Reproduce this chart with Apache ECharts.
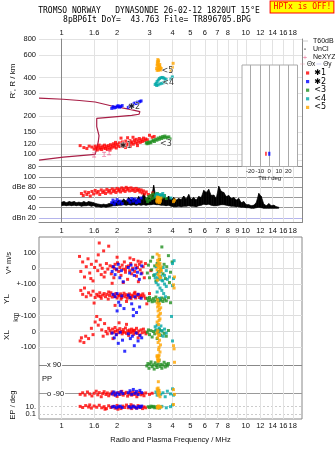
<!DOCTYPE html>
<html><head><meta charset="utf-8">
<script src="https://cdn.jsdelivr.net/npm/echarts@6/dist/echarts.min.js"></script>
<style>html,body{margin:0;padding:0;background:#fff}#c{width:335px;height:451px}</style>
</head><body><div id="c"></div>
<script>
// ---------- axis ticks ----------
const fMin = 0.753, fMax = 20.2;
const freqTicks = [1,1.5,2,3,4,5,6,7,8,10,12,14,16,18];
const freqTickLabels = ['1','1.6','2','3','4','5','6','7','8','10','12','14','16','18'];
const ampFreqTicks = [1,1.5,2,3,4,5,6,7,8,9,10,12,14,16,18];
const ampFreqLabels = ['1','1.6','2','3','4','5','6','7','8','9','10','12','14','16','18'];
const freqGrid = [1,1.5,2,3,4,5,6,7,8,9,10,12,14,16,18];
const heightTicks = [80,90,100,120,150,200,300,400,600,800];
const ampTicks = [20,40,60,80,100];
const ampTickLabels = ['dBn 20','40','60','dBe 80','100'];
const tiltTicks = [-20,-10,0,10,20];
const lowTicks = [100,0,-100,-200,-300,-400,-500];
const lowTickLabels = ['100','0','+-100','0','+-100','0','-100'];

// ---------- data ----------
const profile = [[0.753,275],[1.02,270],[1.25,264],[1.52,257],[1.85,240],[2.35,225],[2.66,216],[2.63,206],[2.40,202],[1.55,191],[1.55,165],[1.595,140],[1.58,125],[1.55,112],[1.52,100],[1.02,95],[0.753,90]];
const neXYZ = [[1.50,99],[1.70,100],[1.81,103]];
const thetaX = [[-3.5,101]];
const thetaY = [[0,101]];
const tags = [[2.07,117,'✱1'],[2.30,233,'✱2'],[3.42,120,'<3'],[3.52,360,'<4'],[3.49,452,'<5']];

// noise band: [freq MHz, low dB, high dB]
const noiseBand = [[1.00,44,51],[1.03,45,52],[1.06,44,50],[1.10,45,52],[1.13,44,51],[1.17,45,52],[1.20,44,50],[1.24,45,51],[1.28,43,50],[1.32,44,52],[1.36,44,50],[1.40,45,52],[1.45,43,51],[1.49,44,50],[1.54,42,48],[1.59,42,47],[1.64,41,46],[1.69,42,47],[1.74,41,46],[1.80,42,48],
[1.85,43,49],[1.91,44,52],[1.97,44,50],[2.04,45,55],[2.10,45,52],[2.17,46,57],[2.24,45,53],[2.31,46,60],[2.38,45,55],[2.46,46,58],[2.54,45,54],[2.62,46,62],[2.70,45,56],[2.79,46,68],[2.87,45,58],[2.97,46,62],[3.06,46,56],[3.16,47,84],[3.26,46,58],[3.36,46,62],[3.47,45,58],[3.58,45,62],[3.69,44,57],[3.81,45,63],[3.93,43,56],[4.06,42,60],[4.19,42,55],[4.32,43,58],[4.46,42,56],[4.60,43,63],[4.75,43,57],[4.90,44,66],[5.05,43,56],[5.21,43,60],[5.38,42,55],[5.55,44,62],[5.73,45,60],[5.91,47,74],[6.10,46,70],[6.29,47,76],[6.49,45,64],[6.70,44,65],[6.91,44,58],[7.13,45,82],[7.36,46,72],[7.59,46,70],[7.83,45,62],[8.08,44,64],[8.34,43,58],[8.61,43,60],[8.88,42,55],[9.16,42,58],[9.45,41,50],[9.75,41,52],[10.06,40,46],[10.38,40,46],[10.71,39,44],[11.05,39,45],[11.40,40,50],[11.77,41,68],[12.14,40,62],[12.53,39,47],[12.92,39,44],[13.34,39,48],[13.76,39,44],[14.20,39,45],[14.65,39,42],[15.11,39,41]];

// cluster 1 (red)
const redIon = [[1.26,117],[1.32,113],[1.37,111],[1.41,116],[1.46,114],[1.50,110],[1.52,116],[1.54,112],[1.56,108],[1.58,114],[1.60,118],[1.61,110],[1.63,113],[1.65,109],[1.67,116],[1.69,112],[1.71,118],[1.73,111],[1.75,115],[1.77,109],[1.79,117],[1.81,113],[1.84,119],[1.86,112],[1.88,116],[1.91,121],[1.93,114],[1.95,118],[1.98,112],[2.00,120],[2.03,116],[2.06,123],[2.08,115],[2.11,119],[2.14,125],[2.17,117],[2.20,121],[2.23,127],[2.26,118],[2.29,123],[2.32,120],[2.35,128],[2.38,122],[2.41,125],[2.45,120],[2.48,129],[2.51,124],[2.54,131],[2.57,122],[2.61,127],[2.64,133],[2.67,124],[2.71,130],[2.74,126],[2.78,134],[2.82,128],[2.86,132],[2.10,134],[2.28,135],[2.44,136],[2.92,130],[3.00,141],[3.10,136],[3.18,138],[1.83,108],[2.22,113],[2.58,117],[1.96,124],[2.36,115]];
const redAmp = [[1.28,68],[1.31,64],[1.34,71],[1.37,66],[1.40,70],[1.43,63],[1.46,72],[1.49,67],[1.52,74],[1.55,69],[1.58,72],[1.61,66],[1.64,75],[1.67,70],[1.70,73],[1.73,68],[1.76,76],[1.79,71],[1.82,74],[1.85,69],[1.88,77],[1.91,72],[1.94,75],[1.97,70],[2.00,78],[2.03,73],[2.06,76],[2.09,71],[2.12,79],[2.15,74],[2.18,77],[2.21,72],[2.24,80],[2.27,75],[2.30,78],[2.34,73],[2.38,79],[2.42,74],[2.46,77],[2.50,72],[2.54,78],[2.58,74],[2.62,76],[2.66,71],[2.70,75],[2.74,69],[2.78,73],[2.83,67],[2.88,71],[2.96,66],[3.05,63],[3.12,69]];
const redV = [[1.25,75],[1.27,-20],[1.30,40],[1.33,-55],[1.36,10],[1.39,60],[1.42,-30],[1.45,25],[1.48,-80],[1.51,5],[1.54,45],[1.57,-15],[1.60,160],[1.62,20],[1.64,-40],[1.66,0],[1.69,110],[1.72,-25],[1.75,30],[1.78,-5],[1.80,140],[1.83,15],[1.86,-35],[1.89,10],[1.92,-60],[1.95,25],[1.98,-10],[2.01,35],[2.04,-20],[2.07,5],[2.10,-45],[2.13,20],[2.16,-5],[2.19,40],[2.22,-25],[2.25,10],[2.28,-70],[2.31,15],[2.34,-15],[2.37,30],[2.40,-35],[2.43,0],[2.46,55],[2.49,-20],[2.52,20],[2.55,-50],[2.58,5],[2.61,-85],[2.64,25],[2.67,-10],[2.70,40],[2.73,-30],[2.77,10],[2.81,-60],[2.85,30],[3.05,-15],[1.58,85],[2.00,70],[1.44,-65],[2.16,-90],[1.88,-95],[2.35,65],[1.70,-55],[2.60,45],[1.93,0],[2.22,-8]];
const redYL = [[1.27,60],[1.30,35],[1.33,75],[1.36,20],[1.40,45],[1.44,30],[1.48,55],[1.52,15],[1.55,35],[1.58,25],[1.61,45],[1.64,10],[1.67,30],[1.70,40],[1.73,20],[1.76,35],[1.79,5],[1.82,28],[1.85,45],[1.88,18],[1.91,32],[1.94,22],[1.97,40],[2.00,12],[2.03,30],[2.06,25],[2.09,38],[2.12,15],[2.15,28],[2.18,42],[2.21,20],[2.24,33],[2.27,10],[2.30,25],[2.33,38],[2.36,18],[2.40,30],[2.44,22],[2.48,40],[2.52,12],[2.56,28],[2.60,35],[2.64,15],[2.68,30],[2.72,20],[2.76,38],[2.80,25],[2.85,10],[1.50,-20],[1.95,-35],[2.25,-10],[2.90,-25],[3.00,40],[1.80,50],[2.10,5],[2.50,48],[1.62,22],[2.38,8]];
const redXL = [[1.26,-60],[1.28,-40],[1.32,-70],[1.35,-30],[1.40,-45],[1.45,20],[1.48,-20],[1.52,60],[1.55,95],[1.58,40],[1.62,75],[1.65,10],[1.68,-30],[1.71,50],[1.74,0],[1.77,-15],[1.80,20],[1.83,5],[1.86,-10],[1.89,15],[1.92,-5],[1.95,25],[1.98,-20],[2.01,8],[2.04,-8],[2.07,18],[2.10,0],[2.13,-15],[2.16,12],[2.19,-5],[2.22,22],[2.25,-12],[2.28,5],[2.31,-25],[2.34,10],[2.37,-8],[2.40,15],[2.43,0],[2.46,-18],[2.49,8],[2.52,-5],[2.55,20],[2.58,-12],[2.62,3],[2.66,-22],[2.70,10],[2.74,-8],[2.78,15],[2.83,-3],[2.87,-15],[2.05,55],[2.25,45],[1.90,-45],[2.60,-40],[2.15,-2],[2.45,6],[1.96,2],[2.33,-3]];
const redPP = [[1.26,-95],[1.30,-85],[1.34,-100],[1.38,-80],[1.42,-92],[1.46,-105],[1.50,-88],[1.54,-75],[1.57,-98],[1.60,-84],[1.64,-110],[1.67,-90],[1.70,-78],[1.74,-96],[1.77,-86],[1.80,-104],[1.84,-92],[1.88,-80],[1.92,-98],[1.96,-88],[2.00,-108],[2.04,-84],[2.08,-95],[2.12,-76],[2.16,-100],[2.20,-90],[2.24,-82],[2.28,-106],[2.32,-94],[2.36,-86],[2.40,-100],[2.44,-80],[2.48,-96],[2.52,-88],[2.56,-110],[2.60,-92],[2.65,-82],[2.70,-98],[2.75,-90],[2.80,-104],[2.86,-86],[3.00,-95],[3.10,-88]];
const redEP = [[1.26,12],[1.30,6],[1.35,20],[1.40,8],[1.45,4],[1.50,15],[1.55,7],[1.60,25],[1.65,5],[1.70,10],[1.75,3],[1.80,18],[1.85,6],[1.90,12],[1.95,4],[2.00,22],[2.05,8],[2.10,3],[2.15,14],[2.20,6],[2.25,28],[2.30,5],[2.35,10],[2.40,3],[2.45,16],[2.50,7],[2.55,4],[2.60,20],[2.65,6],[2.70,11],[2.75,3],[2.80,9],[2.86,5],[1.42,30],[1.72,2],[2.02,2],[2.38,35]];

// cluster 2 (blue)
const blueIon = [[1.87,229],[1.90,236],[1.93,231],[1.97,233],[2.00,238],[2.03,240],[2.06,234],[2.09,237],[2.13,241],[2.30,233],[2.34,238],[2.38,244],[2.42,241],[2.46,248],[2.50,252],[2.54,250],[2.58,256],[2.62,254],[2.66,259],[2.70,262]];
const blueAmp = [[1.87,50],[1.90,55],[1.93,47],[1.96,52],[2.00,56],[2.04,49],[2.08,53],[2.13,48],[2.30,55],[2.35,51],[2.40,58],[2.45,53],[2.50,57],[2.55,50],[2.60,55],[2.65,52],[2.70,59]];
const blueV = [[1.88,-20],[1.91,10],[1.95,-40],[1.99,-5],[2.03,25],[2.07,-60],[2.11,-15],[2.16,-85],[2.30,5],[2.34,-30],[2.38,20],[2.43,-10],[2.48,-45],[2.53,0],[2.58,-25],[2.64,-70],[2.70,-35],[2.72,15]];
const blueYL = [[1.90,35],[1.95,20],[2.00,40],[2.04,-15],[2.08,-35],[2.12,25],[2.18,-55],[2.30,30],[2.35,15],[2.40,-25],[2.45,-60],[2.50,20],[2.55,-80],[2.60,35],[2.65,-45],[2.70,10],[2.00,-70],[2.45,-100]];
const blueXL = [[1.88,-10],[1.93,-40],[1.98,-20],[2.03,-75],[2.08,-5],[2.14,-55],[2.20,-125],[2.30,-15],[2.36,-45],[2.42,-30],[2.48,-90],[2.54,-10],[2.60,-60],[2.66,-25],[2.72,-40]];
const bluePP = [[1.88,-92],[1.92,-80],[1.96,-100],[2.00,-86],[2.05,-95],[2.10,-78],[2.15,-90],[2.30,-85],[2.35,-72],[2.40,-95],[2.45,-64],[2.50,-88],[2.55,-76],[2.60,-96],[2.66,-70],[2.72,-84]];
const blueEP = [[1.88,8],[1.93,12],[1.98,5],[2.03,9],[2.08,14],[2.13,6],[2.32,10],[2.38,5],[2.44,13],[2.50,8],[2.56,4],[2.62,11],[2.68,7],[2.72,15]];

// cluster 3 (green)
const greenIon = [[2.88,123],[2.91,121],[2.94,124],[2.97,122],[3.01,125],[3.05,123],[3.10,127],[3.15,129],[3.19,126],[3.24,131],[3.29,129],[3.34,134],[3.39,131],[3.44,136],[3.49,133],[3.54,138],[3.59,135],[3.64,139],[3.70,136],[3.76,134],[3.82,137],[3.88,132]];
const greenAmp = [[2.90,57],[2.93,52],[2.97,62],[3.01,55],[3.05,64],[3.09,58],[3.13,67],[3.17,60],[3.21,65],[3.26,62],[3.31,68],[3.36,63],[3.42,60],[3.48,65],[3.55,61],[3.62,64],[3.70,58]];
const greenV = [[2.92,-30],[2.96,20],[3.00,-60],[3.04,45],[3.08,-10],[3.12,70],[3.16,-45],[3.20,15],[3.25,-80],[3.30,30],[3.35,-20],[3.40,55],[3.45,-5],[3.50,135],[3.55,-35],[3.60,25],[3.66,-65],[3.72,10],[3.80,80],[3.90,-25],[3.98,40],[3.85,-90]];
const greenYL = [[2.92,10],[2.96,-5],[3.00,15],[3.05,0],[3.10,-12],[3.15,8],[3.20,-8],[3.25,18],[3.30,2],[3.35,-15],[3.40,5],[3.45,-3],[3.50,12],[3.55,-10],[3.62,6],[3.70,-6],[3.80,14],[3.90,-18]];
const greenXL = [[2.92,-5],[2.96,10],[3.00,-20],[3.05,5],[3.10,-35],[3.15,0],[3.20,-15],[3.25,8],[3.30,-45],[3.35,-8],[3.40,12],[3.45,-25],[3.50,3],[3.60,-12],[3.70,-30],[3.80,6]];
const greenPP = [[2.90,85],[2.94,100],[2.98,70],[3.02,95],[3.06,110],[3.10,80],[3.14,92],[3.18,65],[3.22,105],[3.26,88],[3.30,75],[3.34,98],[3.38,120],[3.42,82],[3.46,95],[3.50,70],[3.55,90],[3.60,108],[3.65,78],[3.70,96],[3.75,85],[3.80,100]];
const greenEP = [[2.95,10],[3.00,6],[3.05,14],[3.10,8],[3.15,12],[3.20,5],[3.25,9],[3.30,7]];

// cluster 4 (cyan)
const cyanIon = [[3.22,352],[3.26,360],[3.30,372],[3.35,382],[3.40,392],[3.46,398],[3.52,400],[3.58,396],[3.64,390],[3.70,384],[3.66,372],[3.58,364],[3.50,360],[3.42,356],[3.34,350],[3.28,346],[3.99,404],[3.92,388]];
const cyanAmp = [[3.24,63],[3.28,67],[3.33,64],[3.38,66],[3.43,62],[3.48,65],[3.54,68],[3.60,63],[3.92,59]];
const cyanV = [[3.20,-40],[3.26,10],[3.32,-60],[3.38,25],[3.44,-20],[3.50,-75],[3.56,5],[3.62,-45],[3.70,-15],[3.85,-55],[4.00,30],[4.05,-65],[4.08,48]];
const cyanYL = [[3.22,140],[3.26,110],[3.30,165],[3.34,95],[3.38,130],[3.42,75],[3.46,150],[3.50,60],[3.54,120],[3.58,40],[3.62,100],[3.66,20],[3.70,85],[3.40,10],[3.30,50],[3.95,-105],[4.00,90],[3.75,130]];
const cyanXL = [[3.22,30],[3.26,10],[3.30,40],[3.34,-5],[3.38,20],[3.42,-20],[3.46,35],[3.50,5],[3.56,-30],[3.62,15],[3.70,-10],[4.00,-60]];
const cyanPP = [[3.25,-80],[3.30,-100],[3.35,-70],[3.45,-95],[3.55,-85],[3.65,-110],[3.75,-75],[3.90,-92],[4.00,-60],[4.05,-100]];
const cyanEP = [[3.30,8],[3.50,12],[3.70,5],[3.90,10],[4.00,30],[3.40,4]];

// cluster 5 (orange)
const orangeIon = [[3.28,470],[3.30,500],[3.31,530],[3.33,552],[3.35,525],[3.37,495],[3.39,465],[3.41,505],[3.43,478],[3.45,458],[3.30,455],[3.33,482],[3.36,540],[3.38,462],[3.47,470],[3.32,510],[3.40,488],[3.35,455],[4.03,516],[3.99,481],[3.93,452]];
const orangeAmp = [[3.28,53],[3.30,58],[3.32,51],[3.34,56],[3.36,60],[3.38,54],[3.40,50],[3.42,57],[3.44,53],[3.46,59],[3.35,55],[3.31,61],[4.05,52],[4.10,55]];
const orangeV = [[3.28,20],[3.30,-10],[3.32,50],[3.34,-40],[3.36,5],[3.38,80],[3.40,-25],[3.42,30],[3.44,-60],[3.46,10],[3.48,-15],[3.32,-75],[3.38,60],[3.40,-50],[3.36,35],[3.30,90],[3.44,-5],[3.34,15],[4.10,-55]];
const orangeYL = [[3.30,-20],[3.32,-45],[3.34,-70],[3.36,-35],[3.38,-95],[3.40,-60],[3.42,-120],[3.44,-85],[3.30,-140],[3.36,-155],[3.40,-25],[3.34,-105],[3.32,0],[3.45,-50],[4.05,95],[4.08,75],[3.38,-130]];
const orangeXL = [[3.30,-10],[3.32,-40],[3.34,-70],[3.36,-25],[3.38,-100],[3.40,-55],[3.42,-130],[3.44,-85],[3.30,-160],[3.34,-185],[3.38,-150],[3.36,-115],[3.40,-20],[3.32,5],[4.05,-90],[4.08,-110],[4.10,-195]];
const orangePP = [[3.30,150],[3.32,130],[3.34,115],[3.36,145],[3.38,125],[3.35,-15],[3.30,-60],[3.32,-75],[3.34,-90],[3.36,-100],[3.38,-70],[3.40,-85],[3.42,-110],[3.34,-55],[4.05,-65],[4.10,-95]];
const orangeEP = [[3.30,8],[3.34,12],[3.38,5],[3.42,10],[3.46,7],[3.36,15],[3.32,4],[4.05,40]];

// ---------- build ----------
const L = Math.log10;
const FF = 'Liberation Sans, Arial, Helvetica, sans-serif';
const MONO = 'DejaVu Sans Mono, Liberation Mono, monospace';
const lab = (vals, labels) => (v) => { for (let i = 0; i < vals.length; i++) if (Math.abs(vals[i] - v) < 1e-6) return labels[i]; return ''; };
const LS = {fontSize: 7.5, color: '#111', fontFamily: FF, showMinLabel: true, showMaxLabel: true, hideOverlap: false};
const OFF_YL = -200, OFF_XL = -400, OFF_PP = -703, EP0 = -899, EPK = 23;
const INSET_YMIN = 1.9047, INSET_YMAX = 2.6995;

const grids = [
  {left: 39, top: 39, width: 263, height: 127.7, outerBoundsMode: 'none'},
  {left: 39, top: 167, width: 263, height: 55.5, outerBoundsMode: 'none'},
  {left: 242, top: 65, width: 55.5, height: 101.5, show: true, backgroundColor: '#fff', borderColor: '#aaa', borderWidth: 1, z: 5, outerBoundsMode: 'none'},
  {left: 39, top: 237, width: 263, height: 182, show: true, borderColor: '#888', borderWidth: 1, outerBoundsMode: 'none'}
];
const fx = (g, pos, ticks, labels, margin, showLine) => ({
  gridIndex: g, type: 'value', position: pos, min: L(fMin), max: L(fMax),
  axisLine: {show: showLine, lineStyle: {color: '#888', width: 1}},
  axisTick: {show: false, customValues: freqGrid.map(L)},
  axisLabel: Object.assign({}, LS, {margin: margin, customValues: ticks.map(L), formatter: lab(ticks.map(L), labels)}),
  splitLine: {show: true, lineStyle: {color: '#e2e2e2', width: 1}}
});
const xAxes = [
  fx(0, 'top', freqTicks, freqTickLabels, 2, true),
  fx(1, 'bottom', ampFreqTicks, ampFreqLabels, 4, true),
  {gridIndex: 2, type: 'value', min: -28.7, max: 29.7, z: 6,
   axisLine: {show: false},
   axisTick: {show: false, customValues: tiltTicks},
   axisLabel: {fontSize: 6, color: '#222', fontFamily: FF, margin: 1.5, customValues: tiltTicks, formatter: v => String(v), showMinLabel: true, showMaxLabel: true, hideOverlap: false},
   splitLine: {show: true, lineStyle: {color: '#aaa'}},
   name: 'Tilt / deg', nameLocation: 'middle', nameGap: 8, nameTextStyle: {fontSize: 6, color: '#222', fontFamily: FF}},
  Object.assign(fx(3, 'bottom', freqTicks, freqTickLabels, 3, false), {
    name: 'Radio and Plasma Frequency / MHz', nameLocation: 'middle', nameGap: 17,
    nameTextStyle: {fontSize: 7.5, color: '#111', fontFamily: FF}})
];
const border = (g) => ({gridIndex: g, type: 'value', position: 'right', min: 0, max: 1,
  axisLine: {show: true, lineStyle: {color: '#888'}}, axisTick: {show: false}, axisLabel: {show: false}, splitLine: {show: false}});
const lowAxis = (vals, labels, opt) => Object.assign({
  gridIndex: 3, type: 'value', position: 'left', min: -954, max: 198,
  axisLine: {show: false},
  axisTick: {show: false, customValues: vals},
  axisLabel: Object.assign({}, LS, {margin: 3, customValues: vals, formatter: lab(vals, labels)}),
  splitLine: {show: true, lineStyle: {color: '#ddd'}}
}, opt || {});
const ep10 = EP0 + EPK * L(10), ep01 = EP0 + EPK * L(0.1);
const yAxes = [
  {gridIndex: 0, type: 'value', min: L(80), max: L(800),
   axisLine: {show: true, lineStyle: {color: '#888'}},
   axisTick: {show: false, customValues: heightTicks.map(L)},
   axisLabel: Object.assign({}, LS, {margin: 3, customValues: heightTicks.map(L), formatter: v => String(Math.round(Math.pow(10, v)))}),
   splitLine: {show: true, lineStyle: {color: '#e2e2e2'}}},
  border(0),
  {gridIndex: 1, type: 'value', min: 11, max: 120,
   axisLine: {show: true, lineStyle: {color: '#888'}},
   axisTick: {show: false, customValues: ampTicks},
   axisLabel: Object.assign({}, LS, {margin: 3, customValues: ampTicks, formatter: lab(ampTicks, ampTickLabels)}),
   splitLine: {show: true, lineStyle: {color: ['#b4b4ec', '#999', '#999', '#999', '#999'], width: 1}}},
  border(1),
  {gridIndex: 2, type: 'value', min: INSET_YMIN, max: INSET_YMAX, show: false},
  lowAxis(lowTicks, lowTickLabels),
  lowAxis([OFF_PP + 90, OFF_PP - 90], ['x 90', 'o -90'], {
    axisLabel: Object.assign({}, LS, {inside: true, margin: 8, customValues: [OFF_PP + 90, OFF_PP - 90], formatter: lab([OFF_PP + 90, OFF_PP - 90], ['x 90', 'o -90']), backgroundColor: '#fff', padding: [0, 1, 0, 0]}),
    splitLine: {show: true, lineStyle: {color: ['#888', '#999']}}}),
  lowAxis([ep10], ['10.'], {splitLine: {show: true, lineStyle: {color: '#ccc', type: [2, 2]}}}),
  lowAxis([ep01], ['0.1'], {splitLine: {show: true, lineStyle: {color: '#ccc', type: [2, 2]}}}),
  lowAxis([OFF_PP], ['PP'], {
    axisLabel: Object.assign({}, LS, {inside: true, margin: 3, customValues: [OFF_PP], formatter: () => 'PP'}),
    splitLine: {show: false}})
];

const series = [];
series.push({type: 'line', name: 'T60dB', data: [], xAxisIndex: 0, yAxisIndex: 0, itemStyle: {color: '#aaa'}, lineStyle: {color: '#aaa'}, symbol: 'none'});
series.push({type: 'scatter', name: 'UnCl', data: [], xAxisIndex: 0, yAxisIndex: 0, itemStyle: {color: '#000'}});
series.push({type: 'line', name: 'profile', xAxisIndex: 0, yAxisIndex: 0, data: profile.map(p => [L(p[0]), L(p[1])]),
  symbol: 'none', lineStyle: {color: '#a81e46', width: 1.2}, z: 3, silent: true});
series.push({type: 'scatter', name: 'NeXYZ', xAxisIndex: 0, yAxisIndex: 0, data: neXYZ.map(p => [L(p[0]), L(p[1])]),
  symbol: 'path://M0,0h5v1h-2v4h2v1h-5v-1h2v-4h-2z', symbolSize: [4, 5], itemStyle: {color: '#e8608c'}, z: 4});
// tilt inset grid lines, placed through the inset axes
series.push({type: 'custom', name: 'tiltGrid', xAxisIndex: 2, yAxisIndex: 4, data: tiltTicks.map(t => [t]), z: 7, silent: true,
  encode: {x: 0},
  renderItem: (params, api) => {
    const t = api.value(0);
    const p1 = api.coord([t, INSET_YMIN]), p2 = api.coord([t, INSET_YMAX]);
    return {type: 'line', shape: {x1: Math.round(p1[0]) + 0.5, y1: p1[1], x2: Math.round(p2[0]) + 0.5, y2: p2[1]}, style: {stroke: '#aaa', lineWidth: 1}};
  }});
// noise band: filled between low and high, segment by segment through the axis scales
const noiseData = noiseBand.map(p => [L(p[0]), p[1], p[2]]);
series.push({type: 'custom', name: 'noise', xAxisIndex: 1, yAxisIndex: 2, data: noiseData, z: 2, silent: true,
  encode: {x: 0, y: [1, 2]},
  renderItem: (params, api) => {
    const i = params.dataIndex;
    if (i >= noiseData.length - 1) return null;
    const a = noiseData[i], b = noiseData[i + 1];
    const pts = [api.coord([a[0], a[1]]), api.coord([b[0], b[1]]), api.coord([b[0], b[2]]), api.coord([a[0], a[2]])];
    return {type: 'polygon', shape: {points: pts}, style: {fill: '#000', stroke: '#000', lineWidth: 0.7}};
  }});

const clusters = [
  {name: '✱1', color: '#ff0000', ion: redIon, amp: redAmp, v: redV, yl: redYL, xl: redXL, pp: redPP, ep: redEP},
  {name: '✱2', color: '#0000ff', ion: blueIon, amp: blueAmp, v: blueV, yl: blueYL, xl: blueXL, pp: bluePP, ep: blueEP},
  {name: '<3', color: '#1f8f1f', ion: greenIon, amp: greenAmp, v: greenV, yl: greenYL, xl: greenXL, pp: greenPP, ep: greenEP},
  {name: '<4', color: '#00a8a8', ion: cyanIon, amp: cyanAmp, v: cyanV, yl: cyanYL, xl: cyanXL, pp: cyanPP, ep: cyanEP},
  {name: '<5', color: '#ffa500', ion: orangeIon, amp: orangeAmp, v: orangeV, yl: orangeYL, xl: orangeXL, pp: orangePP, ep: orangeEP}
];
const SZ = 3;
clusters.forEach(c => {
  const mk = (data, xi, yi, tf) => ({type: 'scatter', name: c.name, xAxisIndex: xi, yAxisIndex: yi,
    data: data.map(p => [L(p[0]), tf(p[1])]), symbol: 'rect', symbolSize: SZ,
    itemStyle: {color: c.color}, z: 3, clip: false});
  series.push(mk(c.ion, 0, 0, v => L(v)));
  series.push(mk(c.amp, 1, 2, v => v));
  series.push(mk(c.v, 3, 5, v => v));
  series.push(mk(c.yl, 3, 5, v => v + OFF_YL));
  series.push(mk(c.xl, 3, 5, v => v + OFF_XL));
  series.push(mk(c.pp, 3, 5, v => v + OFF_PP));
  series.push(mk(c.ep, 3, 5, v => EP0 + EPK * L(v)));
});
series.push({type: 'scatter', name: 'Θx', xAxisIndex: 2, yAxisIndex: 4, data: thetaX.map(p => [p[0], L(p[1])]),
  symbol: 'rect', symbolSize: [1.6, 4], itemStyle: {color: '#ff0000'}, z: 8});
series.push({type: 'scatter', name: 'Θy', xAxisIndex: 2, yAxisIndex: 4, data: thetaY.map(p => [p[0], L(p[1])]),
  symbol: 'rect', symbolSize: [2.2, 4], itemStyle: {color: '#0000ff'}, z: 8});
series.push({type: 'scatter', name: 'tags', xAxisIndex: 0, yAxisIndex: 0, symbolSize: 0, z: 7,
  data: tags.map(t => ({value: [L(t[0]), L(t[1])], name: t[2]})),
  label: {show: true, position: 'right', distance: 0, formatter: '{b}', fontSize: 8, color: '#000', fontFamily: 'DejaVu Sans, ' + FF,
    textBorderColor: '#fff', textBorderWidth: 1}});

const lineIcon = 'path://M0,0M10,6M0,2.5h10v1h-10z';
const legText = {fontSize: 7, color: '#111', fontFamily: FF};
const legends = [
  {orient: 'vertical', left: 302, top: 37.5, itemWidth: 6, itemHeight: 6, itemGap: 1.2, selectedMode: false, padding: 0,
   textStyle: Object.assign({}, legText, {lineHeight: 6}),
   data: [{name: 'T60dB', icon: lineIcon}, {name: 'UnCl', icon: 'path://M0,0M10,6M4,2h2v2h-2z'}, {name: 'NeXYZ', icon: 'path://M0,0M10,6M4.5,0h1v6h-1zM2,2.5h6v1h-6z', itemStyle: {color: '#e8608c'}}]},
  {orient: 'horizontal', left: 300, top: 60.5, width: 40, itemWidth: 5, itemHeight: 5, itemGap: 1, selectedMode: false, padding: 0,
   textStyle: Object.assign({}, legText, {fontSize: 6.5, padding: [0, 0, 0, -3]}),
   data: [{name: 'Θx', icon: lineIcon, itemStyle: {color: '#f08aa0'}}, {name: 'Θy', icon: lineIcon, itemStyle: {color: '#9a9af0'}}]},
  {orient: 'vertical', left: 306, top: 69, itemWidth: 3.2, itemHeight: 3.2, itemGap: 0.6, selectedMode: false, padding: 0,
   textStyle: {fontSize: 8, color: '#000', fontFamily: 'DejaVu Sans, ' + FF, lineHeight: 8},
   data: clusters.map(c => ({name: c.name, icon: 'rect'}))}
];

const rot = (x, y, text, size) => ({type: 'text', x: x, y: y, rotation: Math.PI / 2,
  style: {text: text, fill: '#111', fontSize: size || 8, fontFamily: FF, align: 'center', verticalAlign: 'middle'}});
const graphic = [
  {type: 'text', x: 149, y: 11, style: {text: 'TROMSO NORWAY   DYNASONDE 26-02-12 1820UT 15°E', fill: '#000', fontSize: 8, fontFamily: MONO, align: 'center', verticalAlign: 'middle'}},
  {type: 'text', x: 157, y: 20, style: {text: '8pBP6It DoY=  43.763 File= TR896705.BPG', fill: '#000', fontSize: 8, fontFamily: MONO, align: 'center', verticalAlign: 'middle'}},
  {type: 'text', x: 302, y: 7, style: {text: 'HPTx is OFF!', fill: '#f00', fontSize: 8, fontFamily: MONO, align: 'center', verticalAlign: 'middle',
    backgroundColor: '#ffff00', borderColor: '#f00', borderWidth: 1, padding: [2, 2, 1, 3]}},
  rot(13, 81, "R', R / km", 8),
  rot(9, 263, 'V* m/s', 7.5),
  rot(7, 299, 'YL', 8),
  rot(16, 317, 'km', 7),
  rot(7, 335, 'XL', 8),
  rot(13, 405, 'EP / deg', 7.5)
];

const chart = echarts.init(document.getElementById('c'), null, {renderer: 'canvas'});
chart.setOption({
  animation: false,
  backgroundColor: '#fff',
  textStyle: {fontFamily: FF},
  grid: grids, xAxis: xAxes, yAxis: yAxes,
  legend: legends, series: series, graphic: graphic
});
</script></body></html>
